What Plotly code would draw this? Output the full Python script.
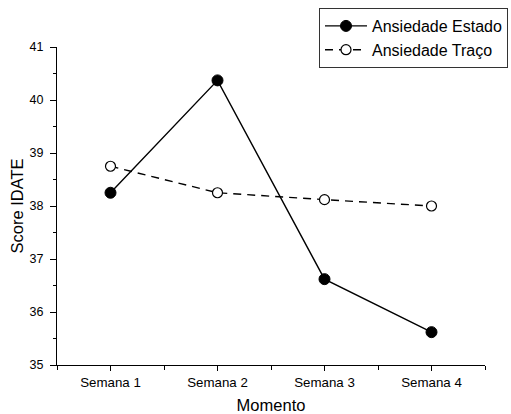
import plotly.graph_objects as go

categories = ["Semana 1", "Semana 2", "Semana 3", "Semana 4"]
estado = [38.25, 40.37, 36.62, 35.62]
traco = [38.75, 38.25, 38.12, 38.0]
series_names = ["Ansiedade Estado", "Ansiedade Traço"]
y_ticks = [35, 36, 37, 38, 39, 40, 41]

xpos = list(range(len(categories)))
FONT = "Liberation Sans, Arial, sans-serif"

fig = go.Figure()
fig.add_trace(go.Scatter(
    x=xpos, y=estado, name=series_names[0], mode="lines+markers",
    line=dict(color="black", width=1.4),
    marker=dict(symbol="circle", size=11, color="black", line=dict(color="black", width=1)),
))
fig.add_trace(go.Scatter(
    x=xpos, y=traco, name=series_names[1], mode="lines+markers",
    line=dict(color="black", width=1.4, dash="8px,6px"),
    marker=dict(symbol="circle", size=10, color="white", line=dict(color="black", width=1.2)),
))

fig.update_layout(
    width=511, height=414,
    margin=dict(l=57, r=26, t=47, b=49, autoexpand=False),
    paper_bgcolor="white", plot_bgcolor="white",
    font=dict(family=FONT, color="black"),
    showlegend=True,
    legend=dict(
        x=(319 - 57) / 428, y=(365 - 8) / 318, xanchor="left", yanchor="top",
        bordercolor="#333333", borderwidth=1, bgcolor="white",
        font=dict(size=16, family=FONT, color="black"),
        tracegroupgap=0, itemwidth=42,
    ),
    xaxis=dict(
        range=[-0.5, 3.5], tickmode="array", tickvals=xpos, ticktext=categories,
        showline=True, linecolor="black", linewidth=1,
        ticks="outside", ticklen=5, tickcolor="black", tickwidth=1,
        tickfont=dict(size=13.3, family=FONT),
        minor=dict(tickmode="linear", tick0=0.5, dtick=1, ticks="outside", ticklen=4, tickcolor="black"),
        showgrid=False, zeroline=False, automargin=False,
        title=dict(text="Momento", font=dict(size=16.5, family=FONT), standoff=14),
        ticklabelstandoff=0,
    ),
    yaxis=dict(
        range=[35, 41], tickmode="array", tickvals=y_ticks,
        showline=True, linecolor="black", linewidth=1,
        ticks="outside", ticklen=6, tickcolor="black", tickwidth=1,
        tickfont=dict(size=12.5, family=FONT),
        minor=dict(tickmode="linear", tick0=35.5, dtick=1, ticks="outside", ticklen=3, tickcolor="black"),
        showgrid=False, zeroline=False, automargin=False,
        title=dict(text="Score IDATE", font=dict(size=16.5, family=FONT), standoff=1),
        ticklabelstandoff=4,
    ),
)

fig.write_html("out.html")
